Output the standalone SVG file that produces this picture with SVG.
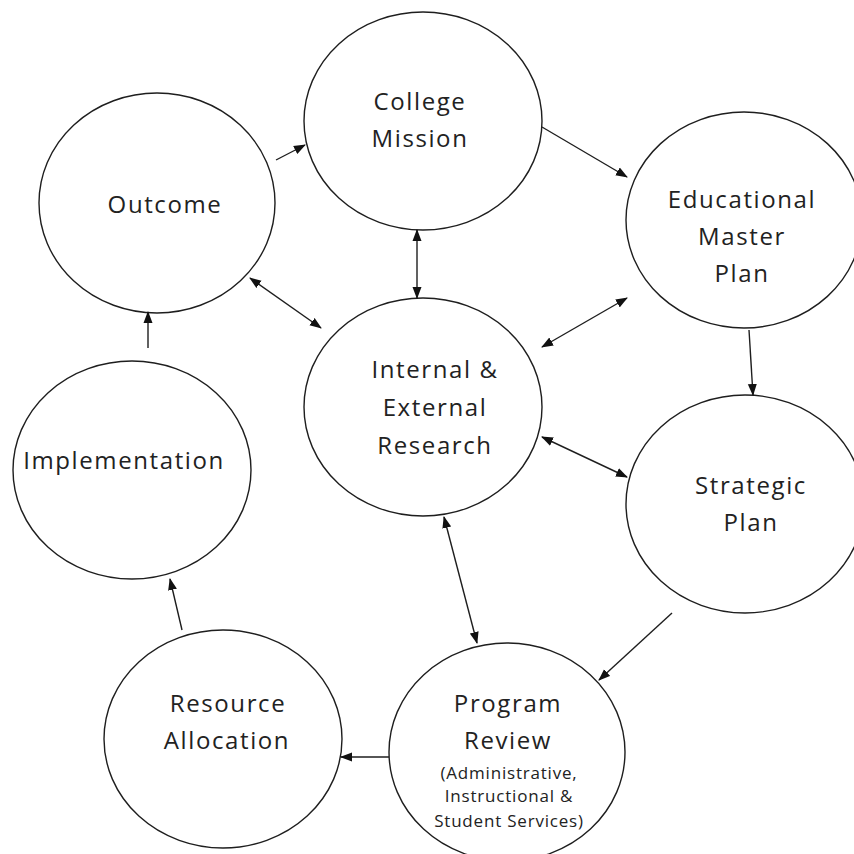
<svg xmlns="http://www.w3.org/2000/svg" width="854" height="854" viewBox="0 0 854 854">
<style>
.node ellipse{fill:#fff;stroke:#1e1e1e;stroke-width:1.4}
.node text{font-family:"Open Sans","Liberation Sans",sans-serif;font-size:24px;fill:#222;text-anchor:middle;letter-spacing:1.6px}
.node text.small{font-size:17px;letter-spacing:0.8px}
#connectors line{stroke:#1e1e1e;stroke-width:1.4;fill:none}
.one{marker-end:url(#ah)}
.two{marker-end:url(#ah);marker-start:url(#ah)}
</style>
<defs>
<marker id="ah" markerUnits="userSpaceOnUse" markerWidth="12" markerHeight="10" refX="11" refY="4.5" orient="auto-start-reverse" viewBox="0 0 12 9">
<path d="M0,0 L12,4.5 L0,9 z" fill="#111"/>
</marker>
</defs>
<rect width="854" height="854" fill="#fff"/>
<g id="outcome" class="node">
<ellipse cx="157" cy="203" rx="118" ry="110"/>
<text x="165" y="213">Outcome</text>
</g>
<g id="college-mission" class="node">
<ellipse cx="423" cy="121" rx="119" ry="109"/>
<text x="420" y="110">College</text>
<text x="420" y="147">Mission</text>
</g>
<g id="educational-master-plan" class="node">
<ellipse cx="744" cy="220" rx="118" ry="108"/>
<text x="742" y="208">Educational</text>
<text x="742" y="245">Master</text>
<text x="742" y="282">Plan</text>
</g>
<g id="research" class="node">
<ellipse cx="423" cy="407" rx="119" ry="109"/>
<text x="435" y="378">Internal &amp;</text>
<text x="435" y="416">External</text>
<text x="435" y="454">Research</text>
</g>
<g id="implementation" class="node">
<ellipse cx="132" cy="470" rx="119" ry="109"/>
<text x="124" y="469">Implementation</text>
</g>
<g id="strategic-plan" class="node">
<ellipse cx="745" cy="504" rx="119" ry="109"/>
<text x="751" y="494">Strategic</text>
<text x="751" y="531">Plan</text>
</g>
<g id="resource-allocation" class="node">
<ellipse cx="223" cy="739" rx="119" ry="109"/>
<text x="228" y="712">Resource</text>
<text x="227" y="749">Allocation</text>
</g>
<g id="program-review" class="node">
<ellipse cx="507" cy="752" rx="118" ry="109"/>
<text x="508" y="712">Program</text>
<text x="508" y="749">Review</text>
<text class="small" x="509" y="779">(Administrative,</text>
<text class="small" x="509" y="802">Instructional &amp;</text>
<text class="small" x="509" y="827">Student Services)</text>
</g>
<g id="connectors">
<line class="one" x1="276" y1="160" x2="305" y2="145"/>
<line class="one" x1="542" y1="127" x2="627" y2="177"/>
<line class="two" x1="417" y1="230" x2="417" y2="298"/>
<line class="two" x1="250" y1="278" x2="321" y2="328"/>
<line class="two" x1="627" y1="298" x2="542" y2="347"/>
<line class="one" x1="749" y1="330" x2="753" y2="395"/>
<line class="two" x1="542" y1="437" x2="627" y2="477"/>
<line class="two" x1="444" y1="517" x2="477" y2="643"/>
<line class="one" x1="672" y1="613" x2="599" y2="680"/>
<line class="one" x1="389" y1="757" x2="341" y2="757"/>
<line class="one" x1="182" y1="630" x2="170" y2="579"/>
<line class="one" x1="148" y1="348" x2="148" y2="312"/>
</g>
</svg>
